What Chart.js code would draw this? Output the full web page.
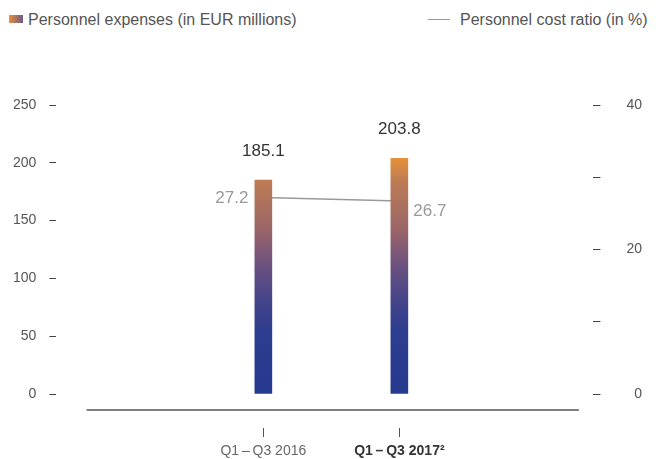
<!DOCTYPE html>
<html>
<head>
<meta charset="utf-8">
<script src="https://cdn.jsdelivr.net/npm/chart.js@4"></script>
<style>
    html, body { margin: 0; padding: 0; background: #fff; }
    #wrap { position: relative; width: 656px; height: 459px; font-family: "Liberation Sans", Arial, sans-serif; }
    #personnel-canvas { position: absolute; left: 0; top: 0; }
    .legend-item { position: absolute; top: 10px; font-size: 16px; color: #555; line-height: 20px; white-space: nowrap; }
    .legend-box { display: inline-block; width: 14px; height: 8px; margin-right: 5px; vertical-align: 2px; background: linear-gradient(to right, #e8903a, #6a5a86); }
    .legend-line { display: inline-block; width: 22px; height: 0; border-top: 1.5px solid #999; margin-right: 10px; vertical-align: 5px; }
</style>
</head>
<body>
<div id="wrap">
    <div class="legend-item" style="left: 9px;"><span class="legend-box"></span>Personnel expenses (in EUR millions)</div>
    <div class="legend-item" style="left: 428px;"><span class="legend-line"></span>Personnel cost ratio (in %)</div>
    <canvas id="personnel-canvas" width="656" height="459"></canvas>
</div>
<script>
const periods = ["Q1\u2009\u2013\u2009Q3 2016", "Q1\u2009\u2013\u2009Q3 2017\u00b2"];
const expenses = [185.1, 203.8];      // EUR millions
const costRatio = [27.2, 26.7];       // %
const leftTicks = [0, 50, 100, 150, 200, 250];
const rightTicks = [0, 10, 20, 30, 40];
const rightLabelled = [0, 20, 40];

const FONT = "'Liberation Sans', Arial, sans-serif";

/**
 * @type {HTMLCanvasElement}
 */
const canvas = document.querySelector("#personnel-canvas");

function barGradient(context) {
    const area = context.chart.chartArea;
    if (!area) return "#2a3b8f";
    const g = context.chart.ctx.createLinearGradient(0, area.top, 0, area.bottom);
    g.addColorStop(0, "#f0953a");
    g.addColorStop(0.19, "#e2903b");
    g.addColorStop(0.27, "#bb7a55");
    g.addColorStop(0.43, "#9c6668");
    g.addColorStop(0.56, "#6a5080");
    g.addColorStop(0.67, "#47458a");
    g.addColorStop(0.78, "#2d3c8e");
    g.addColorStop(1, "#263a90");
    return g;
}

// baseline + small tick marks below the plot
const axisDecor = {
    id: "axisDecor",
    afterDraw(chart) {
        const {ctx, scales} = chart;
        const x = scales.x, y0 = scales.y.getPixelForValue(0);
        ctx.save();
        ctx.strokeStyle = "#555";
        ctx.lineWidth = 1.5;
        ctx.beginPath();
        ctx.moveTo(x.getPixelForValue(-0.3), y0 + 16);
        ctx.lineTo(x.getPixelForValue(3.32), y0 + 16);
        ctx.stroke();
        ctx.lineWidth = 1;
        periods.forEach((p, i) => {
            const px = Math.round(x.getPixelForValue(i + 1)) + 0.5;
            ctx.beginPath();
            ctx.moveTo(px, y0 + 34);
            ctx.lineTo(px, y0 + 43);
            ctx.stroke();
        });
        ctx.restore();
    }
};

// value labels
const valueLabels = {
    id: "valueLabels",
    afterDatasetsDraw(chart) {
        const ctx = chart.ctx;
        ctx.save();
        ctx.font = "17px " + FONT;
        ctx.textBaseline = "middle";

        const bars = chart.getDatasetMeta(0).data;
        ctx.fillStyle = "#333";
        ctx.textAlign = "center";
        bars.forEach((el, i) => {
            ctx.fillText(expenses[i].toFixed(1), el.x, el.y - 29);
        });

        const pts = chart.getDatasetMeta(1).data;
        ctx.fillStyle = "#999";
        pts.forEach((el, i) => {
            if (i === 0) {
                ctx.textAlign = "right";
                ctx.fillText(costRatio[i].toFixed(1), el.x - 15, el.y + 1);
            } else {
                ctx.textAlign = "left";
                ctx.fillText(costRatio[i].toFixed(1), el.x + 14, el.y + 10);
            }
        });
        ctx.restore();
    }
};

new Chart(canvas, {
    data: {
        datasets: [{
            type: "bar",
            label: "Personnel expenses (in EUR millions)",
            data: expenses.map((v, i) => ({x: i + 1, y: v})),
            backgroundColor: barGradient,
            barThickness: 17,
            yAxisID: "y",
            order: 1,
        }, {
            type: "line",
            label: "Personnel cost ratio (in %)",
            data: costRatio.map((v, i) => ({x: i + 1, y: v})),
            borderColor: "#999",
            borderWidth: 1.5,
            pointRadius: 0,
            fill: false,
            yAxisID: "y1",
            order: 2,
        }]
    },
    options: {
        responsive: false,
        animation: false,
        layout: {padding: {top: 105, left: 0, right: 14, bottom: 0}},
        plugins: {
            legend: {display: false},
            tooltip: {enabled: false},
        },
        scales: {
            x: {
                type: "linear",
                min: -0.522,
                max: 3.427,
                offset: false,
                afterBuildTicks: scale => {
                    scale.ticks = periods.map((p, i) => ({value: i + 1}));
                },
                afterFit: scale => {
                    scale.height = 65;
                },
                grid: {display: false, drawTicks: false, offset: false},
                border: {display: false},
                ticks: {
                    padding: 49,
                    maxRotation: 0,
                    minRotation: 0,
                    autoSkip: false,
                    callback: (v, i) => periods[i],
                    font: ctx => ({family: FONT, size: 14, weight: ctx.index === 1 ? "bold" : "normal"}),
                    color: ctx => ctx.index === 1 ? "#333" : "#666",
                },
            },
            y: {
                position: "left",
                min: 0,
                max: 250,
                afterBuildTicks: scale => {
                    scale.ticks = leftTicks.map(v => ({value: v}));
                },
                grid: {drawOnChartArea: false, tickLength: 7, tickColor: "#444", tickWidth: 1},
                border: {display: false},
                ticks: {padding: 13, color: "#555", font: {family: FONT, size: 14}},
            },
            y1: {
                position: "right",
                min: 0,
                max: 40,
                afterBuildTicks: scale => {
                    scale.ticks = rightTicks.map(v => ({value: v}));
                },
                grid: {drawOnChartArea: false, tickLength: 7, tickColor: "#444", tickWidth: 1},
                border: {display: false},
                ticks: {
                    padding: 13,
                    crossAlign: "far",
                    color: "#555",
                    font: {family: FONT, size: 14},
                    callback: v => rightLabelled.includes(v) ? v : "",
                },
            },
        }
    },
    plugins: [axisDecor, valueLabels]
});
</script>
</body>
</html>
